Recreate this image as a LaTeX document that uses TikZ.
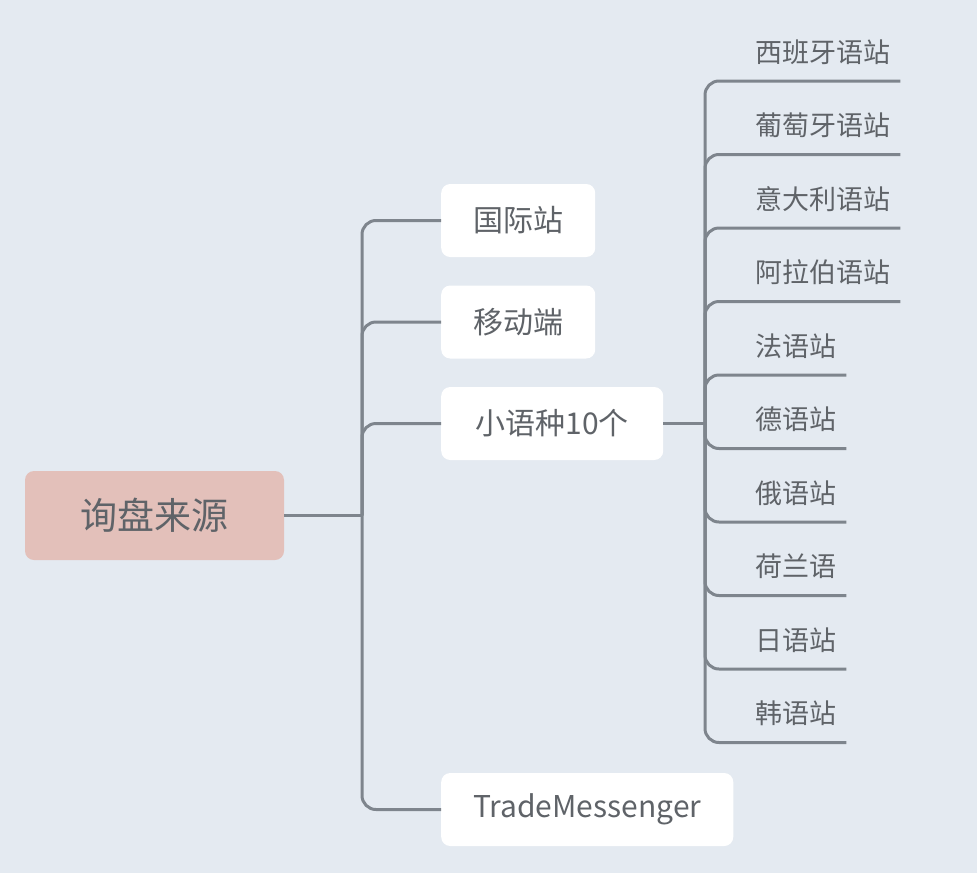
\documentclass[tikz,border=0pt]{standalone}
\usepackage{fontspec}
\setmainfont{Noto Sans CJK SC}
\usetikzlibrary{positioning}

\definecolor{bgcol}{HTML}{E4EAF1}
\definecolor{rootcol}{HTML}{E3C0BA}
\definecolor{linecol}{HTML}{7E858D}
\definecolor{textcol}{HTML}{5F6368}

\tikzset{
  conn/.style={draw=linecol, line width=3pt, rounded corners=14pt},
  rootbox/.style={fill=rootcol, rounded corners=9pt, minimum width=259pt, minimum height=89pt,
    text=textcol, font=\fontsize{37}{44}\selectfont},
  subbox/.style={fill=white, rounded corners=9pt, minimum height=73pt, inner xsep=32pt,
    text=textcol, font=\fontsize{30}{36}\selectfont},
  leaf/.style={inner sep=0pt, minimum height=58pt, anchor=south west,
    text=textcol, font=\fontsize{27}{32}\selectfont}
}

\begin{document}
\begin{tikzpicture}[x=1pt, y=-1pt]
  % Background
  \fill[bgcol] (0,0) rectangle (977,873);
  \useasboundingbox (0,0) rectangle (977,873);

  % Root and first level
  \node[rootbox] (root) at (154.5,515.5) {询盘来源};
  \coordinate (trunk) at (362,515.5);
  \node[subbox, anchor=west] (intl) at (441,220.5) {国际站};
  \node[subbox, anchor=west] (mobile) at (441,322) {移动端};
  \node[subbox, anchor=west, minimum width=222pt] (minor) at (441,423.5) {小语种10个};
  \node[subbox, anchor=west] (tm) at (441,809.5) {TradeMessenger};

  \draw[conn] (root.east) -- (trunk);
  \foreach \n in {intl, mobile, minor, tm} {
    \draw[conn] (trunk) |- (\n.west);
  }

  % Language sites
  \coordinate (hub) at (705,423.5);
  \draw[conn] (minor.east) -- (hub);
  \foreach \i/\y/\txt in {1/81/西班牙语站, 2/154.5/葡萄牙语站, 3/228/意大利语站,
      4/301.5/阿拉伯语站, 5/375/法语站, 6/448.5/德语站, 7/522/俄语站,
      8/595.5/荷兰语, 9/669/日语站, 10/742.5/韩语站} {
    \node[leaf] (l\i) at (755,\y) {\txt};
    \draw[conn] (hub) |- ([xshift=10pt]l\i.south east);
  }
\end{tikzpicture}
\end{document}
